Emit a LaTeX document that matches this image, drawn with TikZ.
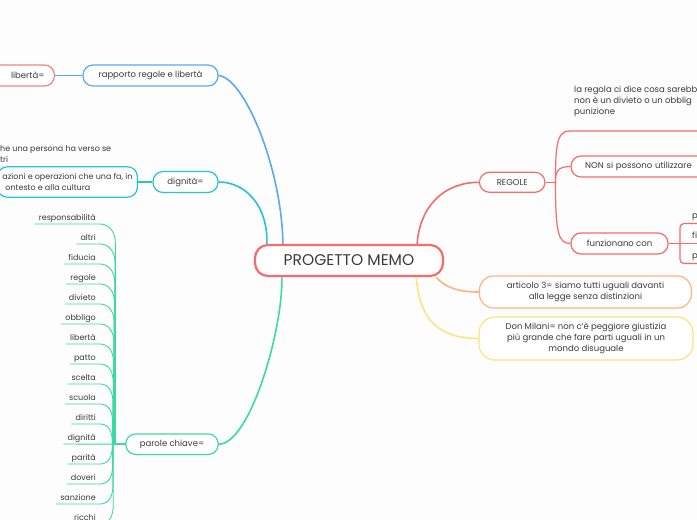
\documentclass[tikz,border=0pt]{standalone}
\usepackage{fontspec}
\setmainfont{Poppins}
\usetikzlibrary{calc}
\definecolor{txt}{HTML}{3A3A3A}
\definecolor{cred}{HTML}{F66B6B}
\definecolor{clred}{HTML}{F28484}
\definecolor{cblue}{HTML}{5AA9F2}
\definecolor{cteal}{HTML}{26C4D2}
\definecolor{cgreen}{HTML}{3DD9A4}
\definecolor{corange}{HTML}{FFB380}
\definecolor{cyellow}{HTML}{FCE482}
\definecolor{bg}{HTML}{FDFDFD}
\begin{document}
\begin{tikzpicture}[x=1pt,y=-1pt,
  box/.style={draw, rounded corners=10pt, fill=white, line width=1.2pt, text=txt, inner sep=0pt, align=center, font=\fontsize{8.5}{11}\selectfont},
  lbl/.style={text=txt, inner sep=0pt, font=\fontsize{8.5}{11}\selectfont},
  kwl/.style={text=txt, inner xsep=4pt, inner ysep=0pt, anchor=base east, font=\fontsize{8}{9}\selectfont},
  br/.style={line width=1.6pt},
  sub/.style={line width=1.2pt},
  kw/.style={cgreen, line width=0.9pt}]
\useasboundingbox (0,0) rectangle (697,520);
\clip (0,0) rectangle (697,520);
\fill[bg] (0,0) rectangle (697,520);

% central node
\node[box, draw=cred, line width=2.2pt, rounded corners=13pt, minimum width=188pt, minimum height=31pt, font=\fontsize{15.5}{18}\selectfont] (memo) at (349,260.5) {PROGETTO MEMO};

% blue branch
\node[box, draw=cblue, minimum width=135pt, minimum height=21pt] (rapp) at (150.5,75.5) {rapporto regole e libertà};
\node[box, draw=clred, anchor=east, text width=60pt, align=right, inner xsep=10pt, minimum height=21pt] (lib) at (55,75.5) {libertà=};
\draw[cblue, sub] (lib.east) -- (rapp.west);
\draw[cblue, br] (rapp.east) .. controls (245,78) and (282,170) .. ([xshift=29pt]memo.north west);

% teal branch
\node[box, draw=cteal, minimum width=65pt, minimum height=21pt] (dig) at (185.5,182) {dignità=};
\node[box, draw=cteal, anchor=east, align=left, inner xsep=5pt, minimum height=30.5pt, font=\fontsize{8}{11}\selectfont] (digc) at (138,182) {azioni e operazioni che una fa, in\\\hspace*{3pt}ontesto e alla cultura};
\node[lbl, anchor=north west, align=left, font=\fontsize{8}{11}\selectfont] (digt) at (0,145.5) {he una persona ha verso se\\tri};
\draw[cteal, sub] (digc.east) -- (dig.west);
\draw[cteal, br] (dig.east) .. controls (245,182) and (268,205) .. ([xshift=13pt]memo.north west);

% green branch
\node[box, draw=cgreen, minimum width=92.5pt, minimum height=20.5pt] (pc) at (172,444.2) {parole chiave=};
\draw[cgreen, br] (pc.east) .. controls (250,444) and (283,330) .. ([xshift=28pt]memo.south west);
\foreach \w/\y [count=\i] in {responsabilità/224, altri/244, fiducia/264, regole/284, divieto/304, obbligo/324, libertà/344, patto/364, scelta/384, scuola/404, diritti/424, dignità/444, parità/464, doveri/484, sanzione/504, ricchi/524}{
  \pgfmathsetmacro\tx{112+0.3*abs(\i-12)}
  \node[kwl] (k\i) at (100,\y-4) {\w};
  \ifnum\y<444
    \draw[kw] ([yshift=-4pt]k\i.base west) -- ([yshift=-4pt]k\i.base east) .. controls +(9,0) and +(0,-10) .. (\tx,\y+18) -- (\tx,444.2) -- (pc.west);
  \else\ifnum\y>444
    \draw[kw] ([yshift=-4pt]k\i.base west) -- ([yshift=-4pt]k\i.base east) .. controls +(9,0) and +(0,10) .. (\tx,\y-18) -- (\tx,444.2) -- (pc.west);
  \else
    \draw[kw] ([yshift=-4pt]k\i.base west) -- (pc.west);
  \fi\fi
}

% red branch
\node[box, draw=cred, minimum width=65.5pt, minimum height=20pt] (reg) at (512.2,182.3) {REGOLE};
\draw[cred, br] ([xshift=-27pt]memo.north east) .. controls (420,205) and (445,182.3) .. (reg.west);
\coordinate (rt) at (555.5,182.3);
\draw[cred, sub] (reg.east) -- (rt);

\node[lbl, anchor=north west, align=left] (rc1) at (574,85.5) {la regola ci dice cosa sarebb\\non è un divieto o un obblig\\punizione};
\draw[cred, sub] (rt) .. controls (555.5,150) and (556,131) .. (569,131) -- (700,131);

\node[box, draw=cred, anchor=west, minimum height=21pt, text width=180pt, align=left, inner xsep=14pt] (rc2) at (570.5,166.5) {NON si possono utilizzare};
\draw[cred, sub] (rt) .. controls (555.5,171) and (558,166.5) .. (rc2.west);

\node[box, draw=cred, minimum width=97pt, minimum height=21pt] (rc3) at (619.5,243.5) {funzionano con};
\draw[cred, sub] (rt) .. controls (555.5,232) and (558,243.5) .. (rc3.west);

\coordinate (fb) at (680,243.5);
\node[lbl, anchor=base west] (f1) at (692,218.5) {p};
\node[lbl, anchor=base west] (f2) at (692,238.5) {fi};
\node[lbl, anchor=base west] (f3) at (692,258.5) {p};
\draw[cred, sub] (rc3.east) -- (fb) -- ([yshift=-5pt]f2.base west) -- ++(20,0);
\draw[cred, sub, rounded corners=4pt] (fb) |- ([yshift=-5pt]f1.base west) -- ++(20,0);
\draw[cred, sub, rounded corners=4pt] (fb) |- ([yshift=-5pt]f3.base west) -- ++(20,0);

% orange and yellow
\node[box, draw=corange, minimum width=212pt, minimum height=32pt, rounded corners=14pt] (art) at (585.5,292) {articolo 3= siamo tutti uguali davanti\\alla legge senza distinzioni};
\draw[corange, br] ([xshift=-8pt]memo.south east) .. controls (445,288) and (460,292) .. (art.west);

\node[box, draw=cyellow, minimum width=214pt, minimum height=43pt, rounded corners=16pt] (don) at (586,338.5) {Don Milani= non c'è peggiore giustizia\\più grande che fare parti uguali in un\\mondo disuguale};
\draw[cyellow, br] ([xshift=-28pt]memo.south east) .. controls (420,322) and (440,338) .. (don.west);
\end{tikzpicture}
\end{document}
